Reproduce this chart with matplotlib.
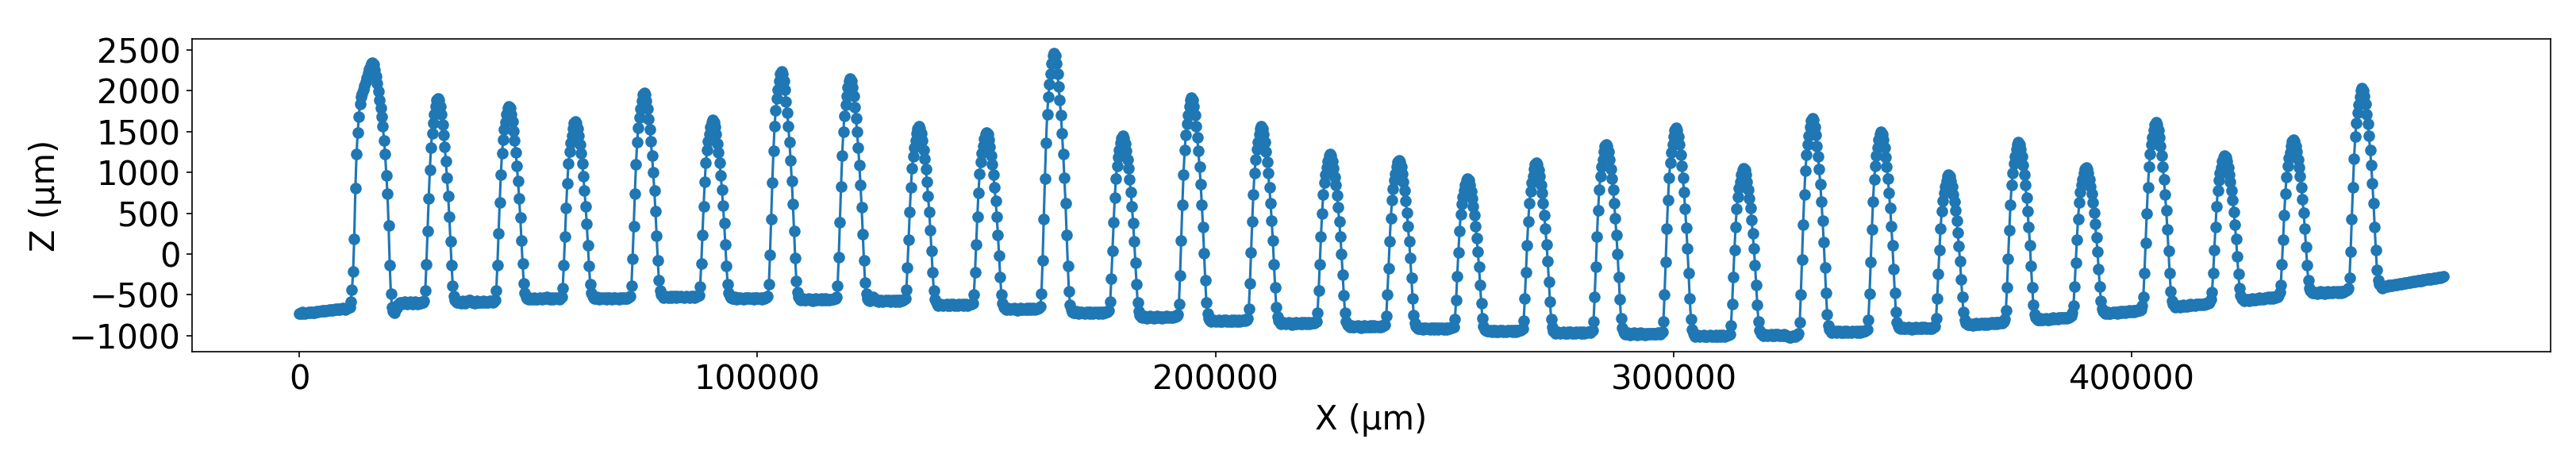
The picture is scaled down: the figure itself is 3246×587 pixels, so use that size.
import matplotlib
matplotlib.use("Agg")
import matplotlib.pyplot as plt
import numpy as np

step_um = 250

flat_00 = [-728, -720, -725, -712, -718, -730, -722, -715, -710, -718,
           -706, -712, -720, -716, -708, -702, -710, -698, -705, -700,
           -694, -702, -690, -696, -688, -692, -684, -690, -680, -686,
           -676, -682, -670, -678, -672, -680, -668, -674, -664, -670,
           -676, -668, -660, -652]
peak_01 = [-650, -587, -441, -215, 189, 804, 1225, 1484, 1678, 1840, 1921, 1965, 2010,
           2060, 2110, 2160, 2215, 2265, 2305, 2335, 2345, 2320, 2260, 2180, 2090, 1990,
           1890, 1791, 1678, 1565, 1387, 1225, 966, 740, 351, -134, -490]
flat_01 = [-650, -700, -720, -690, -660, -625, -610, -598, -612, -590,
           -605, -585, -600, -615, -592, -606, -588, -602, -610, -595,
           -585, -600, -612, -596, -590, -604, -592, -598]
peak_02 = [-575, -450, -123, 278, 679, 1030, 1306, 1482, 1607, 1707, 1808, 1883, 1908,
           1883, 1808, 1708, 1583, 1458, 1308, 1134, 934, 709, 459, 159, -140, -390, -515, -565]
flat_02 = [-585, -598, -580, -594, -603, -588, -576, -590, -599, -584,
           -572, -560, -568, -582, -595, -586, -600, -590, -578, -592,
           -585, -597, -583, -590, -576, -588, -594, -582, -590, -575,
           -585, -578, -592, -584]
peak_03 = [-566, -446, -134, 250, 634, 970, 1234, 1402, 1522, 1618, 1714, 1786, 1810,
           1786, 1716, 1622, 1504, 1386, 1245, 1080, 892, 680, 444, 162, -121, -357, -474, -521]
flat_03 = [-540, -552, -538, -548, -556, -542, -535, -550, -545, -558,
           -540, -532, -547, -553, -539, -548, -544, -530, -549, -541,
           -555, -537, -546, -551, -534, -548, -543, -538, -550, -536]
peak_04 = [-523, -415, -133, 215, 562, 866, 1105, 1257, 1365, 1452, 1539, 1604, 1626,
           1604, 1539, 1453, 1344, 1236, 1106, 955, 781, 586, 370, 110, -150, -367, -475, -518]
flat_04 = [-535, -548, -542, -530, -545, -552, -538, -544, -549, -534,
           -541, -555, -537, -546, -532, -543, -550, -539, -545, -536,
           -548, -540, -553, -535, -544, -538, -547, -531, -542, -549,
           -536, -530]
peak_05 = [-515, -389, -62, 341, 743, 1095, 1372, 1548, 1674, 1775, 1875, 1951, 1976,
           1951, 1876, 1776, 1651, 1526, 1376, 1201, 1001, 776, 525, 225, -75, -325, -450, -500]
flat_05 = [-520, -532, -526, -515, -529, -536, -522, -518, -531, -524,
           -512, -527, -535, -519, -525, -530, -516, -528, -521, -534,
           -523, -517, -529, -526, -538, -520, -527, -514, -531, -524,
           -518, -512]
peak_06 = [-503, -395, -114, 232, 579, 882, 1120, 1271, 1379, 1466, 1552, 1617, 1639,
           1617, 1552, 1465, 1356, 1247, 1116, 964, 789, 593, 375, 114, -148, -366, -475, -518]
flat_06 = [-536, -548, -540, -529, -545, -551, -537, -543, -532, -547,
           -540, -554, -535, -544, -538, -549, -531, -546, -541, -536,
           -550, -539, -545, -533, -548, -542, -537, -552, -534, -544,
           -538, -530]
peak_07 = [-512, -374, -13, 431, 875, 1263, 1568, 1762, 1901, 2012, 2123, 2206, 2234,
           2206, 2122, 2011, 1871, 1732, 1565, 1369, 1146, 895, 616, 282, -53, -332, -471, -527]
flat_07 = [-550, -562, -556, -545, -560, -567, -552, -558, -548, -563,
           -555, -570, -551, -559, -546, -564, -553, -557, -566, -549,
           -561, -554, -547, -565, -556, -552, -568, -550, -559, -553,
           -546, -541]
peak_08 = [-528, -393, -41, 392, 825, 1203, 1501, 1690, 1825, 1934, 2042, 2123, 2150,
           2123, 2041, 1932, 1796, 1660, 1497, 1307, 1089, 844, 572, 246, -80, -352, -488, -543]
flat_08 = [-565, -578, -560, -540, -528, -545, -566, -574, -562, -580,
           -571, -566, -584, -569, -575, -560, -578, -572, -565, -581,
           -570, -563, -576, -582, -567, -573, -561, -579, -568, -574,
           -562, -556]
peak_09 = [-549, -442, -165, 176, 517, 815, 1050, 1199, 1305, 1391, 1476, 1540, 1561,
           1539, 1474, 1387, 1277, 1168, 1038, 885, 710, 514, 296, 34, -227, -446, -555, -598]
flat_09 = [-615, -628, -622, -610, -625, -633, -618, -624, -612, -629,
           -621, -636, -617, -626, -611, -630, -619, -623, -634, -614,
           -627, -620, -613, -631, -622, -616, -632, -618, -625, -612,
           -608]
peak_10 = [-599, -493, -219, 119, 456, 752, 984, 1131, 1237, 1321, 1406, 1469, 1490,
           1468, 1404, 1317, 1209, 1101, 972, 820, 648, 453, 237, -22, -281, -497, -605, -648]
flat_10 = [-665, -678, -672, -660, -675, -683, -668, -674, -662, -679,
           -671, -686, -667, -676, -661, -680, -669, -673, -684, -664,
           -677, -670, -663, -681, -672, -666, -682, -668, -675, -662,
           -658]
peak_11 = [-639, -482, -75, 426, 927, 1365, 1710, 1929, 2085, 2211, 2336, 2430, 2461,
           2429, 2334, 2207, 2048, 1889, 1699, 1476, 1222, 937, 619, 238, -143, -461, -620, -683]
flat_11 = [-710, -723, -717, -705, -720, -728, -713, -719, -707, -724,
           -716, -731, -712, -721, -706, -725, -714, -718, -729, -709,
           -722, -715, -708, -726, -717, -711, -727, -713, -720, -707,
           -712, -703]
peak_12 = [-693, -585, -305, 41, 387, 689, 927, 1078, 1186, 1272, 1359, 1423, 1445,
           1423, 1356, 1268, 1157, 1046, 913, 758, 581, 382, 160, -105, -371, -593, -704, -748]
flat_12 = [-765, -778, -772, -760, -775, -783, -768, -774, -762, -779,
           -771, -786, -767, -776, -761, -780, -769, -773, -784, -764,
           -777, -770, -763, -781, -772, -766, -782, -768, -775, -762,
           -767, -758]
peak_13 = [-743, -609, -259, 170, 600, 977, 1272, 1460, 1595, 1702, 1810, 1890, 1917,
           1890, 1808, 1698, 1562, 1425, 1261, 1070, 852, 606, 332, 5, -323, -596, -733, -788]
flat_13 = [-810, -823, -817, -805, -820, -828, -813, -819, -807, -824,
           -816, -831, -812, -821, -806, -825, -814, -818, -829, -809,
           -822, -815, -808, -826, -817, -811, -827, -813, -820, -807,
           -812, -818, -803]
peak_14 = [-791, -672, -363, 18, 399, 732, 994, 1160, 1279, 1375, 1470, 1541, 1565,
           1541, 1469, 1372, 1252, 1131, 987, 818, 625, 408, 167, -122, -411, -652, -773, -821]
flat_14 = [-840, -853, -847, -835, -850, -858, -843, -849, -837, -854,
           -846, -861, -842, -851, -836, -855, -844, -848, -859, -839,
           -852, -845, -838, -856, -847, -841, -857, -843, -850, -837,
           -842, -833]
peak_15 = [-824, -721, -452, -122, 209, 499, 726, 871, 974, 1057, 1139, 1201, 1222,
           1201, 1138, 1053, 948, 843, 716, 569, 400, 211, 0, -253, -506, -716, -822, -864]
flat_15 = [-880, -893, -887, -875, -890, -898, -883, -889, -877, -894,
           -886, -901, -882, -891, -876, -895, -884, -888, -899, -879,
           -892, -885, -878, -896, -887, -881, -897, -883, -890, -877,
           -882, -873]
peak_16 = [-865, -763, -499, -174, 151, 436, 659, 802, 903, 984, 1066, 1127, 1147,
           1126, 1065, 982, 880, 777, 653, 509, 345, 160, -46, -293, -540, -745, -848, -889]
flat_16 = [-905, -918, -912, -900, -915, -923, -908, -914, -902, -919,
           -911, -926, -907, -916, -901, -920, -909, -913, -924, -904,
           -917, -910, -903, -921, -912, -906, -922, -908, -915, -902,
           -907, -898]
peak_17 = [-892, -800, -562, -269, 24, 280, 482, 610, 701, 775, 848, 903, 921,
           902, 847, 772, 679, 586, 474, 344, 195, 28, -158, -382, -605, -791, -884, -921]
flat_17 = [-935, -948, -942, -930, -945, -953, -938, -944, -932, -949,
           -941, -956, -937, -946, -931, -950, -939, -943, -954, -934,
           -947, -940, -933, -951, -942, -936, -952, -938, -945, -932,
           -937, -928]
peak_18 = [-919, -817, -549, -220, 110, 398, 624, 768, 871, 953, 1036, 1097, 1118,
           1097, 1035, 952, 848, 744, 619, 474, 308, 121, -87, -337, -586, -794, -898, -939]
flat_18 = [-955, -968, -962, -950, -965, -973, -958, -964, -952, -969,
           -961, -976, -957, -966, -951, -970, -959, -963, -974, -954,
           -967, -960, -953, -971, -962, -956, -972, -958, -965, -952,
           -957, -963, -948]
peak_19 = [-937, -822, -522, -153, 216, 538, 792, 953, 1068, 1161, 1253, 1322, 1345,
           1322, 1252, 1159, 1043, 927, 788, 626, 440, 231, -1, -279, -557, -789, -905, -952]
flat_19 = [-970, -983, -977, -965, -980, -988, -973, -979, -967, -984,
           -976, -991, -972, -981, -966, -985, -974, -978, -989, -969,
           -982, -975, -968, -986, -977, -971, -987, -973, -980, -967,
           -972, -978, -963]
peak_20 = [-950, -824, -497, -94, 309, 661, 938, 1114, 1240, 1341, 1441, 1517, 1542,
           1517, 1440, 1339, 1212, 1084, 932, 754, 551, 322, 68, -237, -542, -797, -924, -975]
flat_20 = [-995, -1008, -1002, -990, -1005, -1013, -998, -1004, -992, -1009,
           -1001, -1016, -997, -1006, -991, -1010, -999, -1003, -1014, -994,
           -1007, -1000, -993, -1011, -1002, -996, -1012, -998, -1005, -992,
           -988]
peak_21 = [-979, -877, -610, -282, 46, 333, 558, 702, 804, 886, 968, 1030, 1050,
           1030, 968, 887, 785, 683, 560, 418, 254, 71, -133, -378, -623, -827, -929, -970]
flat_21 = [-985, -998, -992, -980, -995, -1003, -988, -994, -982, -999,
           -991, -1006, -987, -996, -981, -1000, -989, -993, -1004, -984,
           -997, -990, -1000, -1010, -1018, -1022, -1012, -1005, -998, -1008,
           -995, -990]
peak_22 = [-973, -840, -494, -67, 359, 732, 1025, 1212, 1345, 1452, 1558, 1638, 1665,
           1639, 1560, 1456, 1325, 1194, 1037, 854, 645, 410, 148, -165, -479, -741, -872, -924]
flat_22 = [-945, -958, -952, -940, -955, -963, -948, -954, -942, -959,
           -951, -966, -947, -956, -941, -960, -949, -953, -964, -944,
           -957, -950, -943, -961, -952, -946, -962, -948, -955, -942,
           -947, -938]
peak_23 = [-926, -803, -485, -94, 298, 641, 910, 1081, 1203, 1301, 1399, 1473, 1497,
           1473, 1401, 1305, 1185, 1065, 921, 752, 560, 344, 104, -184, -473, -713, -833, -881]
flat_23 = [-900, -913, -907, -895, -910, -918, -903, -909, -897, -914,
           -906, -921, -902, -911, -896, -915, -904, -908, -919, -899,
           -912, -905, -898, -916, -907, -901, -917, -903, -910, -897,
           -893]
peak_24 = [-886, -792, -548, -248, 52, 315, 522, 653, 747, 822, 897, 953, 972,
           954, 899, 825, 734, 642, 532, 404, 258, 93, -91, -310, -530, -713, -805, -842]
flat_24 = [-858, -870, -862, -851, -866, -872, -857, -862, -850, -865,
           -856, -869, -850, -858, -843, -861, -849, -852, -862, -842,
           -854, -846, -839, -856, -846, -840, -855, -840, -846, -833,
           -837, -842, -826]
peak_25 = [-798, -689, -404, -55, 295, 602, 842, 995, 1105, 1192, 1280, 1345, 1367,
           1345, 1280, 1194, 1085, 977, 847, 695, 522, 327, 110, -150, -410, -627, -735, -778]
flat_25 = [-797, -810, -803, -791, -805, -812, -796, -801, -788, -803,
           -794, -808, -788, -796, -780, -798, -786, -789, -799, -778,
           -790, -782, -774, -791, -781, -774, -789, -774, -780, -766,
           -760]
peak_26 = [-722, -632, -398, -110, 178, 430, 628, 754, 844, 916, 988, 1042, 1060,
           1042, 989, 918, 829, 740, 633, 508, 366, 206, 28, -186, -400, -578, -667, -702]
flat_26 = [-717, -730, -723, -711, -725, -732, -716, -721, -708, -723,
           -713, -727, -707, -715, -699, -717, -705, -708, -718, -697,
           -709, -701, -693, -710, -700, -693, -707, -692, -698, -684,
           -688, -693, -676]
peak_27 = [-637, -524, -229, 135, 498, 816, 1065, 1224, 1338, 1428, 1519, 1587, 1610,
           1588, 1520, 1430, 1318, 1205, 1070, 913, 733, 530, 305, 35, -235, -460, -572, -617]
flat_27 = [-637, -650, -643, -630, -644, -651, -635, -640, -627, -641,
           -631, -645, -625, -632, -616, -634, -622, -625, -634, -613,
           -625, -617, -609, -626, -615, -608, -623, -607, -612, -598,
           -602, -590]
peak_28 = [-552, -463, -233, 51, 335, 584, 779, 903, 992, 1063, 1134, 1187, 1205,
           1187, 1134, 1064, 976, 887, 781, 658, 517, 358, 181, -30, -242, -419, -507, -542]
flat_28 = [-557, -570, -563, -550, -564, -571, -555, -560, -547, -561,
           -551, -565, -545, -552, -536, -554, -542, -545, -554, -533,
           -545, -537, -529, -546, -535, -528, -543, -527, -532, -518,
           -522, -510]
peak_29 = [-471, -377, -131, 172, 474, 739, 946, 1079, 1173, 1249, 1324, 1381, 1400,
           1381, 1325, 1250, 1157, 1063, 951, 820, 671, 502, 315, 91, -133, -320, -414, -451]
flat_29 = [-467, -480, -474, -462, -476, -483, -467, -473, -461, -476,
           -467, -482, -463, -472, -456, -475, -464, -467, -478, -458,
           -470, -463, -455, -473, -463, -457, -472, -457, -463, -449,
           -452, -440]
peak_30 = [-415, -292, 29, 424, 819, 1164, 1436, 1608, 1732, 1831, 1929, 2003, 2028,
           2004, 1931, 1835, 1714, 1593, 1448, 1278, 1085, 867, 626, 335, 45, -197, -317, -366]
flat_30 = [-380, -405, -415, -398, -402, -390, -396, -384, -392, -380,
           -388, -375, -382, -370, -378, -366, -372, -362, -368, -356,
           -364, -352, -358, -347, -354, -343, -349, -338, -345, -334,
           -340, -329, -335, -324, -330, -320, -326, -315, -321, -311,
           -316, -306, -312, -301, -307, -297, -303, -292, -298, -288,
           -294, -284, -290, -280, -286, -277]

segments = [flat_00, peak_01, flat_01, peak_02, flat_02, peak_03, flat_03, peak_04, flat_04,
            peak_05, flat_05, peak_06, flat_06, peak_07, flat_07, peak_08, flat_08,
            peak_09, flat_09, peak_10, flat_10, peak_11, flat_11, peak_12, flat_12,
            peak_13, flat_13, peak_14, flat_14, peak_15, flat_15, peak_16, flat_16,
            peak_17, flat_17, peak_18, flat_18, peak_19, flat_19, peak_20, flat_20,
            peak_21, flat_21, peak_22, flat_22, peak_23, flat_23, peak_24, flat_24,
            peak_25, flat_25, peak_26, flat_26, peak_27, flat_27, peak_28, flat_28,
            peak_29, flat_29, peak_30, flat_30]

z_um = np.concatenate([np.array(s, dtype=float) for s in segments])
x_um = np.arange(len(z_um)) * step_um

dpi = 150
fig = plt.figure(figsize=(3246 / dpi, 587 / dpi), dpi=dpi)
ax = fig.add_axes([242 / 3246, 1 - 443 / 587, (3214 - 242) / 3246, (443 - 49) / 587])

plt.plot(x_um, z_um, marker="o")

plt.xlabel("X (µm)", fontsize=20)
plt.ylabel("Z (µm)", fontsize=20)
# font set on the labels only, the locators keep the default tick density
plt.xticks(fontsize=20)
plt.yticks(fontsize=20)

fig.savefig("out.png", dpi=dpi)
plt.close(fig)
